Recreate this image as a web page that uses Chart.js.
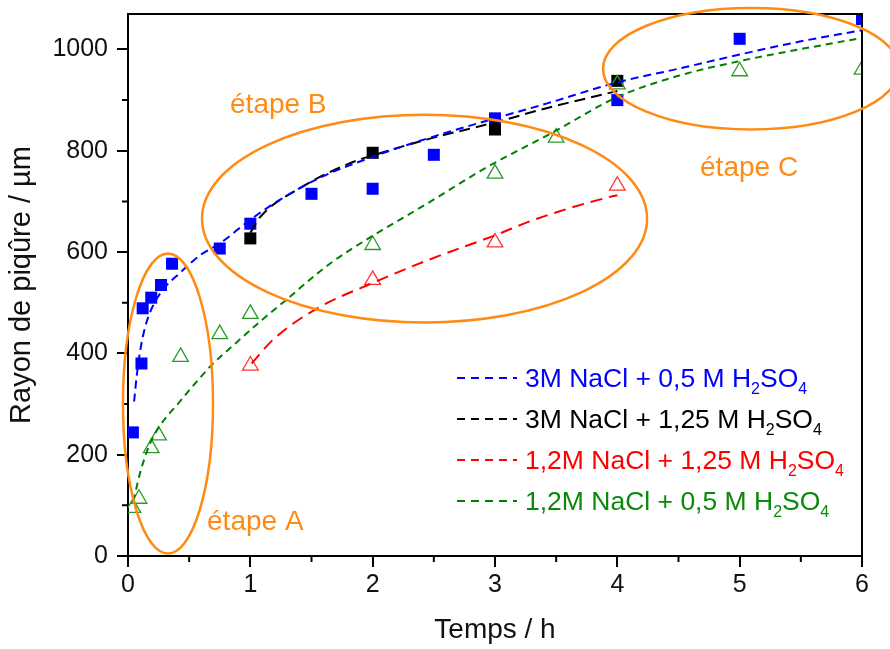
<!DOCTYPE html>
<html>
<head>
<meta charset="utf-8">
<script src="https://cdn.jsdelivr.net/npm/chart.js@4.4.1/dist/chart.umd.min.js"></script>
<style>
  html, body { margin: 0; padding: 0; background: #fff; }
  #wrap { width: 890px; height: 649px; }
</style>
</head>
<body>
<div id="wrap"><canvas id="chart"></canvas></div>
<script>
// measured pit radius (µm) vs time (h)
const blueT  = [0.04, 0.11, 0.12, 0.19, 0.27, 0.36, 0.75, 1, 1.5, 2, 2.5, 3, 4, 5, 6];
const blueR  = [244, 380, 489, 510, 535, 577, 607, 656, 715, 725, 792, 864, 900, 1021, 1060];
const blackT = [1, 2, 3, 4];
const blackR = [627, 796, 842, 938];
const redT   = [1, 2, 3, 4];
const redR   = [376, 545, 619, 731];
const greenT = [0.04, 0.09, 0.19, 0.25, 0.43, 0.75, 1, 2, 3, 3.5, 4, 5, 6];
const greenR = [95, 113, 213, 238, 393, 438, 478, 614, 755, 826, 931, 957, 960];

// fitted curves
const blueFitT  = [0.05, 0.07, 0.1, 0.14, 0.2, 0.29, 0.43, 0.59, 0.75, 1, 1.24, 1.57, 2, 2.47, 3, 3.42, 4, 4.5, 5, 5.5, 6];
const blueFitR  = [305, 353, 406, 452, 492, 527, 560, 594, 617, 664, 703, 747, 788, 826, 864, 893, 935, 962, 990, 1016, 1038];
const blackFitT = [1, 1.08, 1.41, 1.81, 2.03, 2.5, 3, 3.42, 4];
const blackFitR = [638, 669, 727, 775, 793, 826, 856, 884, 918];
const redFitT   = [1.01, 1.19, 1.54, 1.98, 2.44, 3.01, 3.31, 3.94, 4];
const redFitR   = [380, 428, 488, 537, 583, 634, 663, 709, 712];
const greenFitT = [0.044, 0.1, 0.18, 0.275, 0.41, 0.55, 0.68, 0.875, 1.09, 1.27, 1.65, 2, 2.44, 2.93, 3.47, 4, 4.5, 5, 6];
const greenFitR = [108, 165, 222, 262, 301, 341, 376, 419, 465, 501, 577, 632, 695, 767, 836, 906, 948, 977, 1023];

const xTicks = [0, 1, 2, 3, 4, 5, 6];
const yTicks = [0, 200, 400, 600, 800, 1000];

const legendLabels = [
  '3M NaCl + 0,5 M H_2SO_4',
  '3M NaCl + 1,25 M H_2SO_4',
  '1,2M NaCl + 1,25 M H_2SO_4',
  '1,2M NaCl + 0,5 M H_2SO_4'
];

const ORANGE = '#ff8a14';
const FONT = '"Liberation Sans", Arial, sans-serif';

function pts(xs, ys) {
  return xs.map((x, i) => ({ x: x, y: ys[i] }));
}

function fit(label, xs, ys, color, dash) {
  return {
    label: label,
    data: pts(xs, ys),
    showLine: true,
    borderColor: color,
    borderWidth: 2,
    borderDash: dash,
    pointRadius: 0,
    tension: 0.4,
    cubicInterpolationMode: 'monotone',
    fill: false,
    order: 0,
    isFit: true
  };
}

function marks(xs, ys, style, color, filled, order) {
  return {
    label: '',
    data: pts(xs, ys),
    showLine: false,
    pointStyle: style,
    pointRadius: style === 'rect' ? 8.5 : 9,
    backgroundColor: filled ? color : 'rgba(0,0,0,0)',
    borderColor: color,
    borderWidth: filled ? 0 : 1.3,
    clip: 0,
    order: order
  };
}

// minor ticks, top/right frame, ellipses, stage labels and legend
const decor = {
  id: 'decor',
  afterDraw(chart) {
    const ctx = chart.ctx;
    const a = chart.chartArea;
    const xs = chart.scales.x, ys = chart.scales.y;
    ctx.save();

    ctx.strokeStyle = '#000';
    ctx.lineWidth = 2;
    ctx.beginPath();
    ctx.moveTo(a.left, a.top);
    ctx.lineTo(a.right, a.top);
    ctx.lineTo(a.right, a.bottom);
    ctx.stroke();

    ctx.beginPath();
    for (let v = 100; v < 1070; v += 200) {
      const py = ys.getPixelForValue(v);
      ctx.moveTo(a.left - 6, py);
      ctx.lineTo(a.left, py);
    }
    for (let v = 0.5; v < 6; v += 1) {
      const px = xs.getPixelForValue(v);
      ctx.moveTo(px, a.bottom);
      ctx.lineTo(px, a.bottom + 6);
    }
    ctx.stroke();

    // stage ellipses (data coords: centre t, centre r, half-width h, half-height µm)
    const ellipses = [[0.327, 301, 0.368, 296], [2.424, 666, 1.819, 205], [5.093, 962, 1.21, 120]];
    ctx.strokeStyle = ORANGE;
    ctx.lineWidth = 2.5;
    ellipses.forEach(e => {
      const cx = xs.getPixelForValue(e[0]);
      const cy = ys.getPixelForValue(e[1]);
      const rx = xs.getPixelForValue(e[0] + e[2]) - cx;
      const ry = cy - ys.getPixelForValue(e[1] + e[3]);
      ctx.beginPath();
      ctx.ellipse(cx, cy, rx, ry, 0, 0, Math.PI * 2);
      ctx.stroke();
    });

    ctx.fillStyle = ORANGE;
    ctx.font = '28px ' + FONT;
    ctx.textBaseline = 'middle';
    ctx.textAlign = 'left';
    [['étape A', 0.646, 67], ['étape B', 0.834, 889], ['étape C', 4.676, 765]].forEach(s => {
      ctx.fillText(s[0], xs.getPixelForValue(s[1]), ys.getPixelForValue(s[2]));
    });

    // legend
    const fits = chart.data.datasets.filter(d => d.isFit);
    ctx.textBaseline = 'alphabetic';
    fits.forEach((d, i) => {
      const y = 378 + i * 41;
      ctx.strokeStyle = d.borderColor;
      ctx.lineWidth = 2;
      ctx.setLineDash([8, 6]);
      ctx.beginPath();
      ctx.moveTo(457, y);
      ctx.lineTo(517, y);
      ctx.stroke();
      ctx.setLineDash([]);
      ctx.fillStyle = d.textColor || d.borderColor;
      let x = 525;
      d.label.split(/(_\d)/).forEach(part => {
        if (!part) return;
        if (part[0] === '_') {
          ctx.font = '16px ' + FONT;
          ctx.fillText(part.slice(1), x, y + 16);
          x += ctx.measureText(part.slice(1)).width;
        } else {
          ctx.font = '26.5px ' + FONT;
          ctx.fillText(part, x, y + 9);
          x += ctx.measureText(part).width;
        }
      });
    });
    ctx.restore();
  }
};

const datasets = [
  fit(legendLabels[0], blueFitT, blueFitR, '#0000ff', [8, 5]),
  fit(legendLabels[1], blackFitT, blackFitR, '#000000', [11, 6]),
  fit(legendLabels[2], redFitT, redFitR, '#ff0000', [12, 7]),
  fit(legendLabels[3], greenFitT, greenFitR, '#008000', [7, 5]),
  marks(blueT, blueR, 'rect', '#0000ff', true, 4),
  marks(blackT, blackR, 'rect', '#000000', true, 3),
  marks(redT, redR, 'triangle', '#ff3030', false, 2),
  marks(greenT, greenR, 'triangle', '#2a9a2a', false, 1)
];
datasets[3].textColor = '#0a8a0a';

new Chart(document.getElementById('chart'), {
  type: 'scatter',
  data: { datasets: datasets },
  options: {
    responsive: true,
    maintainAspectRatio: false,
    animation: false,
    events: [],
    layout: { padding: { top: 14, right: 28, left: 0, bottom: 0 } },
    plugins: { legend: { display: false }, tooltip: { enabled: false } },
    scales: {
      x: {
        type: 'linear',
        min: 0,
        max: 6,
        afterFit: s => { s.height = 93; s.paddingLeft = 0; s.paddingRight = 0; },
        afterBuildTicks: s => { s.ticks = xTicks.map(v => ({ value: v })); },
        ticks: { color: '#111', font: { family: FONT, size: 25 }, padding: 3, callback: v => String(v) },
        grid: { drawOnChartArea: false, drawTicks: true, tickLength: 11, color: '#000', lineWidth: 2 },
        border: { display: true, color: '#000', width: 2 },
        title: { display: true, text: 'Temps / h', color: '#111', font: { family: FONT, size: 28 }, padding: { top: 0, bottom: 2 } }
      },
      y: {
        type: 'linear',
        min: 0,
        max: 1070,
        afterFit: s => { s.width = 128; s.paddingTop = 0; s.paddingBottom = 0; },
        afterBuildTicks: s => { s.ticks = yTicks.map(v => ({ value: v })); },
        ticks: { color: '#111', font: { family: FONT, size: 25 }, padding: 9, callback: v => String(v) },
        grid: { drawOnChartArea: false, drawTicks: true, tickLength: 11, color: '#000', lineWidth: 2 },
        border: { display: true, color: '#000', width: 2 },
        title: { display: true, text: 'Rayon de piqûre / µm', color: '#111', font: { family: FONT, size: 29 }, padding: { top: 5, bottom: 0 } }
      }
    }
  },
  plugins: [decor]
});
</script>
</body>
</html>
